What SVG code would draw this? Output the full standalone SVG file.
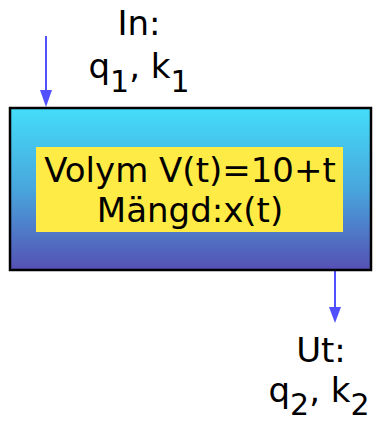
<svg xmlns="http://www.w3.org/2000/svg" width="373" height="421" viewBox="0 0 373 421">
<style>
text{font-family:"DejaVu Sans","Verdana",sans-serif;fill:#000;}
.lbl{font-size:34px;text-anchor:middle;}
.sub{font-size:30px;}
.arr{stroke:#5050ff;stroke-width:2;fill:none;}
</style>
<defs>
<linearGradient id="g" x1="0" y1="0" x2="0" y2="1">
<stop offset="0" stop-color="#44ddfa"/>
<stop offset="0.5" stop-color="#48a6dc"/>
<stop offset="1" stop-color="#5550b4"/>
</linearGradient>
</defs>
<g id="connectors">
<path class="arr" d="M46,36 V91"/>
<path d="M40,90 L52,90 L46,107 Z" fill="#5050ff"/>
<path class="arr" d="M335,271 V308"/>
<path d="M329,307 L341,307 L335,323 Z" fill="#5050ff"/>
</g>
<g id="tank">
<rect x="10" y="108" width="361" height="162" fill="url(#g)" stroke="#000" stroke-width="2.5"/>
<rect x="36" y="147" width="307" height="85" fill="#ffeb45"/>
<text class="lbl" x="190" y="182">Volym V(t)=10+t</text>
<text class="lbl" x="190" y="222">Mängd:x(t)</text>
</g>
<g id="in">
<text class="lbl" x="139" y="35">In:</text>
<text class="lbl" x="139" y="78">q<tspan class="sub" dy="14">1</tspan><tspan dy="-14">, k</tspan><tspan class="sub" dy="14">1</tspan></text>
</g>
<g id="out">
<text class="lbl" x="321" y="362">Ut:</text>
<text class="lbl" x="319" y="402">q<tspan class="sub" dy="13">2</tspan><tspan dy="-13">, k</tspan><tspan class="sub" dy="13">2</tspan></text>
</g>
</svg>
